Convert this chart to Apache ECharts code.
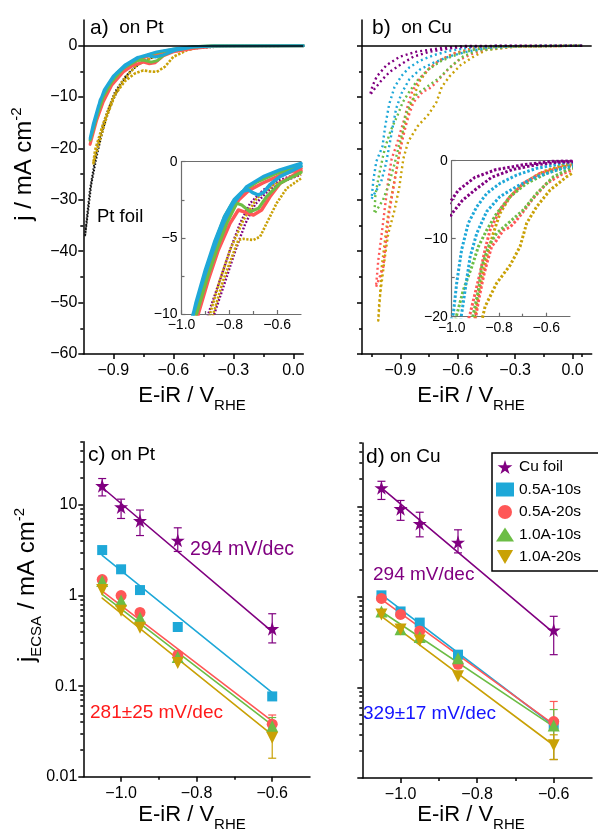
<!DOCTYPE html>
<html>
<head>
<meta charset="utf-8">
<script src="https://cdn.jsdelivr.net/npm/echarts@6/dist/echarts.min.js"></script>
<style>
html, body { margin: 0; padding: 0; background: #fff; }
#chart { width: 598px; height: 834px; }
</style>
</head>
<body>
<div id="chart"></div>
<script>
// ---------- data ----------
// (a) polarisation curves on Pt, [E-iR (V vs RHE), j (mA cm^-2)], full cathodic + return sweep
const aPtFoil = [[0.05,0],[-0.3,0],[-0.5,-0.55],[-0.6,-1.2],[-0.7,-2.17],[-0.783,-3.8],[-0.842,-6.1],[-0.892,-9.0],[-0.933,-13.2],[-0.967,-17.7],[-0.992,-22.3],[-1.017,-28.1],[-1.03,-32.7],[-1.041,-36.9],[-1.03,-33.5],[-1.01,-27],[-0.98,-21],[-0.95,-16],[-0.915,-11.8],[-0.87,-8.0],[-0.82,-5.2],[-0.76,-3.2],[-0.68,-1.9],[-0.58,-1.0],[-0.48,-0.4],[-0.3,0],[0.05,0]];
const aA05s10 = [[0.05,0],[-0.4,-0.05],[-0.5,-0.2],[-0.583,-0.55],[-0.683,-1.2],[-0.767,-2.17],[-0.833,-3.8],[-0.892,-5.74],[-0.933,-8.0],[-0.966,-10.6],[-0.991,-14.5],[-1.016,-18.06],[-1.0,-15.2],[-0.975,-11.8],[-0.945,-8.6],[-0.9,-5.9],[-0.84,-3.7],[-0.78,-2.3],[-0.73,-1.9],[-0.69,-2.2],[-0.65,-1.8],[-0.59,-0.9],[-0.5,-0.25],[-0.4,-0.05],[0.05,0]];
const aA05s20 = [[0.05,0],[-0.4,-0.1],[-0.5,-0.55],[-0.6,-1.2],[-0.65,-2.0],[-0.69,-3.3],[-0.72,-3.5],[-0.75,-3.2],[-0.8,-3.8],[-0.85,-5.1],[-0.908,-7.7],[-0.95,-10.9],[-0.983,-14.5],[-1.016,-19.2],[-1.0,-16.5],[-0.97,-12.5],[-0.93,-9.0],[-0.88,-6.0],[-0.82,-3.7],[-0.76,-2.5],[-0.7,-1.7],[-0.6,-0.8],[-0.5,-0.3],[-0.4,-0.05],[0.05,0]];
const aA10s10 = [[0.05,0],[-0.4,-0.05],[-0.5,-0.25],[-0.6,-0.9],[-0.65,-1.9],[-0.68,-2.9],[-0.71,-3.2],[-0.75,-2.8],[-0.783,-2.9],[-0.85,-4.4],[-0.908,-7.0],[-0.95,-9.9],[-0.983,-13.8],[-1.016,-18.4],[-0.995,-15],[-0.965,-11.2],[-0.93,-8.0],[-0.88,-5.2],[-0.82,-3.4],[-0.77,-2.4],[-0.7,-1.5],[-0.6,-0.7],[-0.5,-0.2],[-0.4,0],[0.05,0]];
const aA10s20 = [[0.05,0],[-0.4,-0.1],[-0.467,-0.3],[-0.533,-0.9],[-0.6,-2.17],[-0.642,-4.1],[-0.683,-5.1],[-0.72,-5.0],[-0.75,-4.8],[-0.792,-5.4],[-0.842,-6.9],[-0.892,-9.6],[-0.933,-13.8],[-0.967,-18.4],[-1.0,-22.9],[-0.991,-20.3],[-0.95,-15.1],[-0.9,-10.0],[-0.85,-6.7],[-0.783,-3.8],[-0.7,-2.2],[-0.6,-0.9],[-0.5,-0.3],[-0.4,-0.05],[0.05,0]];

// (a) inset, onset region
const iaFoil = [[-0.5,-0.72],[-0.588,-1.2],[-0.658,-1.86],[-0.713,-2.73],[-0.755,-4.05],[-0.797,-5.8],[-0.839,-7.77],[-0.888,-10],[-0.93,-13],[-0.867,-10.2],[-0.818,-7.9],[-0.776,-5.9],[-0.734,-4.1],[-0.692,-2.8],[-0.637,-1.9],[-0.567,-1.25],[-0.5,-0.85]];
const iaA05s10 = [[-0.5,-0.12],[-0.588,-0.54],[-0.658,-0.98],[-0.727,-1.64],[-0.783,-2.73],[-0.825,-4.05],[-0.867,-5.8],[-0.909,-7.77],[-0.951,-10],[-0.98,-12],[-0.94,-9.3],[-0.9,-7.1],[-0.86,-5.2],[-0.82,-3.6],[-0.78,-2.5],[-0.745,-1.95],[-0.72,-1.85],[-0.7,-2.05],[-0.678,-2.19],[-0.655,-2.0],[-0.63,-1.5],[-0.588,-0.98],[-0.5,-0.3]];
const iaA05s20 = [[-0.5,-0.6],[-0.588,-1.42],[-0.63,-2.3],[-0.665,-3.17],[-0.699,-3.5],[-0.741,-3.28],[-0.762,-3.17],[-0.797,-4.05],[-0.846,-5.8],[-0.888,-7.77],[-0.93,-10],[-0.96,-12],[-0.92,-9.0],[-0.88,-6.8],[-0.84,-4.8],[-0.8,-3.4],[-0.76,-2.5],[-0.72,-1.9],[-0.66,-1.4],[-0.588,-0.9],[-0.5,-0.45]];
const iaA10s10 = [[-0.5,-0.7],[-0.588,-1.42],[-0.644,-2.3],[-0.678,-3.06],[-0.713,-3.28],[-0.748,-2.84],[-0.769,-2.73],[-0.811,-4.05],[-0.853,-5.8],[-0.895,-7.77],[-0.937,-10],[-0.965,-12],[-0.944,-10],[-0.9,-7.3],[-0.86,-5.3],[-0.82,-3.6],[-0.783,-2.6],[-0.74,-1.9],[-0.68,-1.3],[-0.6,-0.75],[-0.5,-0.3]];
const iaA10s20 = [[-0.5,-1.1],[-0.56,-1.75],[-0.602,-2.73],[-0.644,-4.05],[-0.671,-4.92],[-0.699,-5.14],[-0.741,-5.07],[-0.762,-5.14],[-0.783,-6.0],[-0.825,-7.77],[-0.867,-10],[-0.9,-12.5],[-0.881,-10],[-0.839,-7.77],[-0.797,-5.8],[-0.741,-3.83],[-0.685,-2.4],[-0.616,-1.53],[-0.5,-0.8]];

// (b) polarisation curves on Cu (also used for the inset)
const bCuFoil = [[0.05,0],[-0.3,0],[-0.554,-0.2],[-0.641,-0.5],[-0.745,-1.16],[-0.832,-2.14],[-0.902,-3.76],[-0.954,-5.06],[-0.997,-6.7],[-1.032,-8.3],[-1.058,-9.6],[-1.045,-7.8],[-1.023,-6.0],[-0.971,-3.76],[-0.902,-2.14],[-0.815,-1.16],[-0.693,-0.5],[-0.571,-0.06],[-0.3,0],[0.05,0]];
const bA05s10 = [[0.05,0],[-0.3,-0.1],[-0.45,-0.4],[-0.556,-1.2],[-0.641,-2.05],[-0.725,-3.3],[-0.796,-4.6],[-0.852,-6.5],[-0.894,-9.3],[-0.922,-12.3],[-0.937,-15.3],[-0.955,-19],[-0.975,-23],[-1.0,-26.5],[-1.05,-29.8],[-1.04,-26],[-1.025,-22.5],[-0.993,-19.6],[-0.979,-15.7],[-0.958,-11.4],[-0.93,-8.03],[-0.894,-5.9],[-0.852,-4.2],[-0.796,-2.9],[-0.725,-1.83],[-0.641,-0.98],[-0.528,-0.34],[-0.4,-0.05],[0.05,0]];
const bA05s20 = [[0.05,0],[-0.3,-0.15],[-0.45,-0.7],[-0.528,-1.62],[-0.598,-2.9],[-0.655,-4.8],[-0.697,-6.5],[-0.725,-7.6],[-0.753,-8.5],[-0.782,-8.9],[-0.81,-10.2],[-0.831,-11],[-0.852,-13.2],[-0.866,-14.9],[-0.885,-17.7],[-0.91,-22],[-0.935,-27.5],[-0.96,-33],[-0.975,-37.9],[-0.989,-43.1],[-1.027,-47],[-1.015,-41.8],[-0.997,-36.6],[-0.98,-31.4],[-0.963,-26.2],[-0.945,-22],[-0.922,-19.6],[-0.901,-17],[-0.88,-14.4],[-0.859,-11.4],[-0.838,-8.9],[-0.796,-6.3],[-0.753,-4.6],[-0.697,-2.9],[-0.627,-1.62],[-0.528,-0.77],[-0.4,-0.2],[0.05,0]];
const bA10s10 = [[0.05,0],[-0.3,-0.1],[-0.5,-1.0],[-0.57,-2.05],[-0.641,-4.2],[-0.697,-6.3],[-0.753,-7.8],[-0.81,-9.3],[-0.845,-11],[-0.873,-13.6],[-0.887,-16.6],[-0.908,-19.6],[-0.93,-23],[-0.96,-27],[-0.99,-30],[-1.035,-32.7],[-1.03,-29],[-1.01,-25],[-0.99,-21.5],[-0.979,-19.8],[-0.951,-16.6],[-0.915,-13.6],[-0.887,-11],[-0.852,-8.9],[-0.81,-6.75],[-0.753,-4.6],[-0.683,-2.9],[-0.598,-1.62],[-0.514,-0.77],[-0.4,-0.2],[0.05,0]];
const bA10s20 = [[0.05,0],[-0.3,-0.2],[-0.45,-0.84],[-0.514,-2.05],[-0.584,-3.76],[-0.641,-5.9],[-0.683,-8.0],[-0.711,-11],[-0.753,-13.4],[-0.81,-15.7],[-0.859,-18.7],[-0.884,-22],[-0.905,-27.5],[-0.93,-32],[-0.963,-36.6],[-0.98,-41],[-0.997,-46],[-1.01,-50],[-1.015,-53.5],[-1.005,-48.3],[-0.997,-43.1],[-0.98,-37.9],[-0.963,-32.7],[-0.937,-27.5],[-0.91,-22.3],[-0.894,-18.3],[-0.88,-16.1],[-0.852,-12.3],[-0.824,-9.3],[-0.796,-6.75],[-0.753,-4.6],[-0.697,-2.9],[-0.612,-1.4],[-0.528,-0.55],[-0.4,-0.1],[0.05,0]];

// (c), (d) Tafel data: potentials and j_ECSA (mA cm^-2)
const tafelE = [-1.05, -1.0, -0.95, -0.85, -0.6];
const fitE = [-1.05, -0.6];

const cFoil = [16.3, 9.5, 6.7, 4.07, 0.43];
const cFoilLo = [12.6, 7.1, 4.6, 3.07, 0.30];
const cFoilHi = [19.6, 11.6, 8.8, 5.6, 0.63];
const cA05s10 = [3.18, 1.95, 1.15, 0.45, 0.077];
const cA05s20 = [1.5, 1.0, 0.65, 0.22, 0.038];
const cA10s10 = [1.45, 0.88, 0.57, 0.21, 0.036];
const cA10s20 = [1.15, 0.68, 0.44, 0.18, 0.027];
const cErrE = [-0.6, -0.6, -0.6];
const cErrLo = [0.032, 0.030, 0.016];
const cErrHi = [0.048, 0.045, 0.040];
const cFitFoil = [15.6, 0.40];
const cFit05s10 = [2.78, 0.085];
const cFit05s20 = [1.12, 0.041];
const cFit10s10 = [1.03, 0.037];
const cFit10s20 = [0.94, 0.029];

const dFoil = [16.0, 9.4, 6.45, 4.0, 0.43];
const dFoilLo = [11.9, 7.0, 4.6, 3.06, 0.23];
const dFoilHi = [18.9, 11.6, 8.6, 5.5, 0.61];
const dA05s10 = [1.04, 0.69, 0.52, 0.23, 0.039];
const dA05s20 = [0.96, 0.64, 0.42, 0.18, 0.042];
const dA10s10 = [0.69, 0.44, 0.36, 0.21, 0.038];
const dA10s20 = [0.64, 0.435, 0.33, 0.133, 0.023];
const dErrE = [-0.6, -0.6, -0.6];
const dErrLo = [0.016, 0.016, 0.016];
const dErrHi = [0.070, 0.057, 0.030];
const dFitFoil = [16.0, 0.40];
const dFit05s10 = [1.06, 0.038];
const dFit05s20 = [0.94, 0.039];
const dFit10s10 = [0.69, 0.037];
const dFit10s20 = [0.61, 0.023];

const legendNames = ['Cu foil', '0.5A-10s', '0.5A-20s', '1.0A-10s', '1.0A-20s'];

// ---------- styling ----------
const FONT = '"Liberation Sans", Arial, Helvetica, sans-serif';
const C_FOIL = '#800080', C_BLUE = '#1ea8d8', C_RED = '#ff5757', C_GREEN = '#6cbd45', C_GOLD = '#c9a106';
const STAR = 'path://M50,0 L61.2,34.5 L97.6,34.5 L68.2,55.9 L79.4,90.5 L50,69.1 L20.6,90.5 L31.8,55.9 L2.4,34.5 L38.8,34.5 Z';
const DOWN = 'path://M0,0 L10,0 L5,8.66 Z';
const fmtMinus = d => v => {
  const s = (Math.abs(v) < 1e-9 ? 0 : v).toFixed(d);
  return s.replace('-', '\u2212');
};

const grids = [
  { left: 83.3, top: 20, width: 220, height: 334 },       // a
  { left: 181.5, top: 161.7, width: 119.5, height: 152.3 }, // a inset
  { left: 362, top: 20, width: 229.7, height: 334 },      // b
  { left: 451.7, top: 160.7, width: 118.3, height: 156 }, // b inset
  { left: 83.3, top: 441.7, width: 226.7, height: 335 },  // c
  { left: 362.3, top: 443, width: 229.7, height: 335 }    // d
];

const xAxes = [], yAxes = [];
function addAxis(list, dim, grid, c) {
  const color = c.color || '#000';
  const lw = c.lineWidth || 1.5;
  const pos = c.position || (dim === 'x' ? 'bottom' : 'left');
  const base = { type: c.type || 'value', gridIndex: grid, min: c.min, max: c.max, position: pos,
    splitLine: { show: false }, minorTick: { show: false }, minorSplitLine: { show: false }, silent: true };
  if (c.type === 'log') base.logBase = 10;
  const mainIdx = list.length;
  list.push(Object.assign({}, base, {
    axisLine: { show: true, onZero: false, lineStyle: { color, width: lw } },
    axisTick: { show: !!c.major, inside: !!c.inside, length: c.tickLen || 5, customValues: c.major, lineStyle: { color, width: lw } },
    axisLabel: { show: !!c.labels, customValues: c.major, formatter: c.fmt, fontFamily: FONT,
      fontSize: c.fontSize || 16, color: '#000', margin: c.margin == null ? 6 : c.margin, showMaxLabel: true, showMinLabel: true }
  }));
  if (c.minor) {
    list.push(Object.assign({}, base, {
      axisLine: { show: false, onZero: false },
      axisTick: { show: true, inside: !!c.inside, length: c.minorLen || 3, customValues: c.minor, lineStyle: { color, width: lw } },
      axisLabel: { show: false }
    }));
  }
  return mainIdx;
}
const range = (a, b, s) => { const r = []; for (let v = a; v <= b + 1e-9; v += s) r.push(+v.toFixed(4)); return r; };

// panel a
const xa = addAxis(xAxes, 'x', 0, { min: -1.05, max: 0.05, major: [-0.9, -0.6, -0.3, 0], minor: [-0.75, -0.45, -0.15], labels: true, fmt: fmtMinus(1), margin: 9 });
const ya = addAxis(yAxes, 'y', 0, { min: -60, max: 5, major: range(-60, 0, 10), minor: range(-55, -5, 10), labels: true, fmt: fmtMinus(0) });
// panel a inset
const GRAY = '#6d6d6d';
const xai = addAxis(xAxes, 'x', 1, { min: -1.0, max: -0.5, major: [-1.0, -0.8, -0.6], minor: [-0.9, -0.7], labels: true, fmt: fmtMinus(1), fontSize: 14, color: GRAY, lineWidth: 1.2, inside: true, tickLen: 4, margin: 4 });
addAxis(xAxes, 'x', 1, { min: -1.0, max: -0.5, position: 'top', color: GRAY, lineWidth: 1.2 });
const yai = addAxis(yAxes, 'y', 1, { min: -10, max: 0, major: [-10, -5, 0], minor: [-7.5, -2.5], labels: true, fmt: fmtMinus(0), fontSize: 14, color: GRAY, lineWidth: 1.2, inside: true, tickLen: 4, margin: 4 });
// panel b
const xb = addAxis(xAxes, 'x', 2, { min: -1.1, max: 0.1, major: [-0.9, -0.6, -0.3, 0], minor: [-1.05, -0.75, -0.45, -0.15, 0.05], labels: true, fmt: fmtMinus(1), margin: 9 });
const yb = addAxis(yAxes, 'y', 2, { min: -60, max: 5, major: range(-60, 0, 10), minor: range(-55, -5, 10), labels: false });
// panel b inset
const xbi = addAxis(xAxes, 'x', 3, { min: -1.0, max: -0.5, major: [-1.0, -0.8, -0.6], minor: [-0.9, -0.7], labels: true, fmt: fmtMinus(1), fontSize: 14, color: GRAY, lineWidth: 1.2, inside: true, tickLen: 4, margin: 4 });
addAxis(xAxes, 'x', 3, { min: -1.0, max: -0.5, position: 'top', color: GRAY, lineWidth: 1.2 });
const ybi = addAxis(yAxes, 'y', 3, { min: -20, max: 0, major: [-20, -10, 0], minor: [-15, -5], labels: true, fmt: fmtMinus(0), fontSize: 14, color: GRAY, lineWidth: 1.2, inside: true, tickLen: 4, margin: 4 });
// panels c, d (Tafel, log scale)
const logMinor = [];
[0.01, 0.1, 1, 10].forEach(d => { for (let k = 2; k <= 9; k++) { const v = +(k * d).toPrecision(3); if (v <= 50) logMinor.push(v); } });
const fmtLog = v => String(+v.toPrecision(3));
const xc = addAxis(xAxes, 'x', 4, { min: -1.1, max: -0.5, major: [-1.0, -0.8, -0.6], minor: [-0.9, -0.7], labels: true, fmt: fmtMinus(1), margin: 9 });
const yc = addAxis(yAxes, 'y', 4, { type: 'log', min: 0.01, max: 50, major: [0.01, 0.1, 1, 10], minor: logMinor, labels: true, fmt: fmtLog });
const xd = addAxis(xAxes, 'x', 5, { min: -1.1, max: -0.5, major: [-1.0, -0.8, -0.6], minor: [-0.9, -0.7], labels: true, fmt: fmtMinus(1), margin: 9 });
const yd = addAxis(yAxes, 'y', 5, { type: 'log', min: 0.01, max: 50, major: [0.01, 0.1, 1, 10], minor: logMinor, labels: false });

// ---------- series ----------
const series = [];
function curve(xi, yi, data, color, width, dash, z, cap) {
  series.push({ type: 'line', xAxisIndex: xi, yAxisIndex: yi, data, symbol: 'none', showSymbol: false,
    lineStyle: { color, width, type: dash || 'solid', cap: cap || 'round', join: 'round' }, z: z || 3, silent: true, animation: false, clip: true });
}
function zeroLine(xi, yi) {
  series.push({ type: 'line', xAxisIndex: xi, yAxisIndex: yi, data: [], z: 1, silent: true, animation: false,
    markLine: { silent: true, symbol: 'none', label: { show: false }, animation: false,
      lineStyle: { color: '#000', width: 1.5, type: 'solid' }, data: [{ yAxis: 0 }] } });
}

// a
zeroLine(xa, ya);
curve(xa, ya, aPtFoil, '#111', 2, [1.5, 1.8], 3, 'butt');
curve(xa, ya, aA10s20, C_GOLD, 2.6, [2.5, 1.5], 3, 'butt');
curve(xa, ya, aA05s20, C_RED, 3);
curve(xa, ya, aA10s10, C_GREEN, 3);
curve(xa, ya, aA05s10, C_BLUE, 3);
// a inset
curve(xai, yai, iaFoil, C_FOIL, 2.4, [1.8, 1.8], 3, 'butt');
curve(xai, yai, iaA10s20, C_GOLD, 2.6, [2.2, 1.5], 3, 'butt');
curve(xai, yai, iaA05s20, C_RED, 3.5);
curve(xai, yai, iaA10s10, C_GREEN, 3.2);
curve(xai, yai, iaA05s10, C_BLUE, 3.5);
// b and its inset
zeroLine(xb, yb);
const bSets = [[bA10s20, C_GOLD], [bA05s20, C_RED], [bA10s10, C_GREEN], [bA05s10, C_BLUE], [bCuFoil, C_FOIL]];
bSets.forEach(([d, col]) => curve(xb, yb, d, col, 2.4, [2, 3], 3, 'butt'));
bSets.forEach(([d, col]) => curve(xbi, ybi, d, col, 3, [2.5, 2], 3, 'butt'));

// Tafel panels
const pts = (vals) => vals.map((v, i) => [tafelE[i], v]);
const fit = (ends) => ends.map((v, i) => [fitE[i], v]);
function errorBars(xi, yi, data, color) {
  series.push({ type: 'custom', xAxisIndex: xi, yAxisIndex: yi, data, z: 4, silent: true, animation: false,
    renderItem: (params, api) => {
      const x = api.value(0), lo = api.value(1), hi = api.value(2);
      const p1 = api.coord([x, lo]), p2 = api.coord([x, hi]);
      const w = 4;
      const st = { stroke: color, lineWidth: 1.2, fill: null };
      return { type: 'group', children: [
        { type: 'line', shape: { x1: p1[0], y1: p1[1], x2: p2[0], y2: p2[1] }, style: st },
        { type: 'line', shape: { x1: p1[0] - w, y1: p1[1], x2: p1[0] + w, y2: p1[1] }, style: st },
        { type: 'line', shape: { x1: p2[0] - w, y1: p2[1], x2: p2[0] + w, y2: p2[1] }, style: st }
      ] };
    } });
}
function tafel(xi, yi, sets, foilLo, foilHi, errE, errLo, errHi, named) {
  sets.forEach(s => curve(xi, yi, fit(s.fit), s.color, 1.6, 'solid', 2));
  errorBars(xi, yi, tafelE.map((e, i) => [e, foilLo[i], foilHi[i]]), C_FOIL);
  const errCols = [C_RED, C_GREEN, C_GOLD];
  errE.forEach((e, i) => errorBars(xi, yi, [[e, errLo[i], errHi[i]]], errCols[i]));
  sets.forEach((s, k) => {
    series.push({ type: 'scatter', name: named ? legendNames[k] : undefined, xAxisIndex: xi, yAxisIndex: yi,
      data: pts(s.vals), symbol: s.symbol, symbolSize: s.size, symbolRotate: s.rot || 0,
      itemStyle: { color: s.color, opacity: 1 }, z: 5, silent: true, animation: false });
  });
}
tafel(xc, yc, [
  { vals: cFoil, fit: cFitFoil, color: C_FOIL, symbol: STAR, size: 14 },
  { vals: cA05s10, fit: cFit05s10, color: C_BLUE, symbol: 'rect', size: 10 },
  { vals: cA05s20, fit: cFit05s20, color: C_RED, symbol: 'circle', size: 11 },
  { vals: cA10s10, fit: cFit10s10, color: C_GREEN, symbol: 'triangle', size: 12 },
  { vals: cA10s20, fit: cFit10s20, color: C_GOLD, symbol: 'triangle', size: 12, rot: 180 }
], cFoilLo, cFoilHi, cErrE, cErrLo, cErrHi, false);
tafel(xd, yd, [
  { vals: dFoil, fit: dFitFoil, color: C_FOIL, symbol: STAR, size: 14 },
  { vals: dA05s10, fit: dFit05s10, color: C_BLUE, symbol: 'rect', size: 10 },
  { vals: dA05s20, fit: dFit05s20, color: C_RED, symbol: 'circle', size: 11 },
  { vals: dA10s10, fit: dFit10s10, color: C_GREEN, symbol: 'triangle', size: 12 },
  { vals: dA10s20, fit: dFit10s20, color: C_GOLD, symbol: 'triangle', size: 12, rot: 180 }
], dFoilLo, dFoilHi, dErrE, dErrLo, dErrHi, true);

// ---------- text ----------
const base = { fontFamily: FONT, fill: '#000' };
function txt(x, y, text, rich, opt) {
  opt = opt || {};
  return { type: 'text', x, y, rotation: opt.rot || 0, silent: true, z: 10,
    style: Object.assign({}, base, { text, rich, fontSize: opt.size || 18, fill: opt.color || '#000',
      align: opt.align || 'left', verticalAlign: 'middle', textAlign: opt.align || 'left', textVerticalAlign: 'middle' }) };
}
const R = {
  m: { fontSize: 22, fontFamily: FONT, color: '#000', verticalAlign: 'middle', lineHeight: 24 },
  my: { fontSize: 24, fontFamily: FONT, color: '#000', verticalAlign: 'middle', lineHeight: 26 },
  sub: { fontSize: 15, fontFamily: FONT, color: '#000', verticalAlign: 'middle', lineHeight: 15, padding: [20, 0, 0, 0] },
  sup: { fontSize: 15, fontFamily: FONT, color: '#000', verticalAlign: 'middle', lineHeight: 15, padding: [0, 0, 14, 0] },
  s14: { fontSize: 15, fontFamily: FONT, color: '#000', verticalAlign: 'middle', lineHeight: 15, padding: [19, 0, 0, 0] },
  k: { fontSize: 19, fontFamily: FONT, color: '#000' },
  kb: { fontSize: 21, fontFamily: FONT, color: '#000' },
  red: { fontSize: 19, fontFamily: FONT, color: '#ff1a1a' },
  blue: { fontSize: 19, fontFamily: FONT, color: '#1414ff' }
};
const xTitle = '{m|E-iR / V}{sub|RHE}';
const graphic = [
  txt(90, 28, '{kb|a)}{k|  on }{red|Pt}', R),
  txt(372, 28, '{kb|b)}{k|  on }{blue|Cu}', R),
  txt(88, 455, '{kb|c)}{k| on }{red|Pt}', R),
  txt(366, 457, '{kb|d)}{k| on }{blue|Cu}', R),
  txt(192, 396, xTitle, R, { align: 'center' }),
  txt(471, 396, xTitle, R, { align: 'center' }),
  txt(192, 815, xTitle, R, { align: 'center' }),
  txt(471, 815, xTitle, R, { align: 'center' }),
  txt(24, 164, '{my|j / mA cm}{sup|-2}', R, { align: 'center', rot: Math.PI / 2 }),
  txt(27, 585, '{my|j}{s14|ECSA}{my| / mA cm}{sup|-2}', R, { align: 'center', rot: Math.PI / 2 }),
  txt(97, 217, 'Pt foil', null, { size: 18.5 }),
  txt(190, 550, '294 mV/dec', null, { size: 19.5, color: C_FOIL }),
  txt(90, 713, '281\u00b125 mV/dec', null, { size: 19, color: '#ff1a1a' }),
  txt(373, 575, '294 mV/dec', null, { size: 19, color: C_FOIL }),
  txt(363, 714, '329\u00b117 mV/dec', null, { size: 19, color: '#1414ff' })
];

const legendIcons = [STAR, 'rect', 'circle', 'triangle', DOWN];
const option = {
  animation: false,
  backgroundColor: '#fff',
  grid: grids.map(g => Object.assign({ containLabel: false }, g)),
  xAxis: xAxes,
  yAxis: yAxes,
  series,
  legend: {
    show: true, orient: 'vertical', left: 492, top: 453, itemWidth: 18, itemHeight: 14, itemGap: 6.5,
    padding: [6, 22, 6, 4], borderColor: '#000', borderWidth: 1.5, backgroundColor: '#fff', selectedMode: false,
    textStyle: { fontFamily: FONT, fontSize: 15.5, color: '#000' },
    data: legendNames.map((n, i) => ({ name: n, icon: legendIcons[i] }))
  },
  graphic
};
const chart = echarts.init(document.getElementById('chart'), null, { renderer: 'canvas' });
chart.setOption(option);
</script>
</body>
</html>
